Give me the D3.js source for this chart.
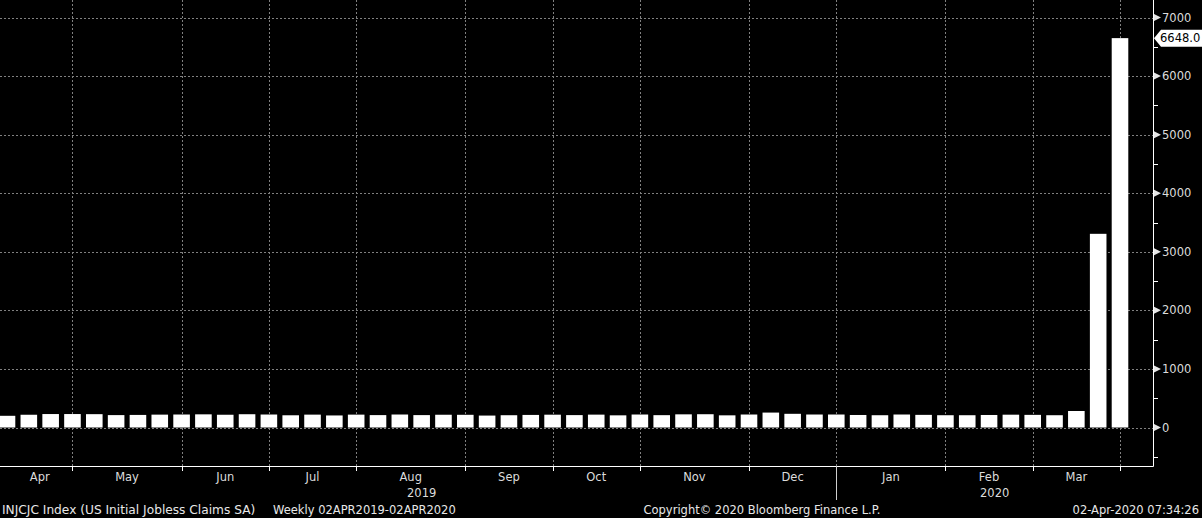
<!DOCTYPE html>
<html>
<head>
<meta charset="utf-8">
<script src="https://cdn.jsdelivr.net/npm/d3@7"></script>
<style>
  html, body { margin: 0; padding: 0; background: #000; }
  svg { display: block; }
</style>
</head>
<body>
<svg id="chart" width="1202" height="518"></svg>
<script>
// ---- data ----
const weeks = [
  "2019-04-06","2019-04-13","2019-04-20","2019-04-27","2019-05-04","2019-05-11","2019-05-18","2019-05-25",
  "2019-06-01","2019-06-08","2019-06-15","2019-06-22","2019-06-29","2019-07-06","2019-07-13","2019-07-20",
  "2019-07-27","2019-08-03","2019-08-10","2019-08-17","2019-08-24","2019-08-31","2019-09-07","2019-09-14",
  "2019-09-21","2019-09-28","2019-10-05","2019-10-12","2019-10-19","2019-10-26","2019-11-02","2019-11-09",
  "2019-11-16","2019-11-23","2019-11-30","2019-12-07","2019-12-14","2019-12-21","2019-12-28","2020-01-04",
  "2020-01-11","2020-01-18","2020-01-25","2020-02-01","2020-02-08","2020-02-15","2020-02-22","2020-02-29",
  "2020-03-07","2020-03-14","2020-03-21","2020-03-28"
];
const claims = [
  200, 218, 230, 230, 228, 212, 215, 220,
  222, 225, 218, 227, 222, 209, 220, 206,
  220, 212, 222, 212, 218, 217, 204, 210,
  215, 219, 212, 220, 208, 222, 211, 225,
  227, 208, 222, 255, 234, 222, 222, 214,
  210, 222, 216, 210, 210, 214, 219, 216,
  210, 282, 3307, 6648
];
const monthBoundaries = ["2019-04-27","2019-06-01","2019-06-29","2019-07-27","2019-08-31","2019-09-28",
  "2019-10-26","2019-11-30","2019-12-28","2020-02-01","2020-02-29","2020-03-28"];
const monthLabels = ["Apr","May","Jun","Jul","Aug","Sep","Oct","Nov","Dec","Jan","Feb","Mar"];
const yearLabels = ["2019","2020"];
const yearBreak = "2019-12-28";
const yMajorTicks = [0,1000,2000,3000,4000,5000,6000,7000];
const yMinorTicks = [-500,500,1500,2500,3500,4500,5500,6500];
const lastValueLabel = "6648.0";
const footerTitle = "INJCJC Index (US Initial Jobless Claims SA)";
const footerPeriod = "Weekly 02APR2019-02APR2020";
const footerMid = "Copyright\u00A9 2020 Bloomberg Finance L.P.";
const footerRight = "02-Apr-2020 07:34:26";

// ---- layout ----
const W = 1202, H = 518;
const plotL = 0, plotR = 1153, plotT = 0, plotB = 466;
const font = "'DejaVu Sans', sans-serif";
const txtCol = "#dcdcdc";
const gridCol = "#808080";

const svg = d3.select("#chart");
svg.append("rect").attr("width", W).attr("height", H).attr("fill", "#000");

const x = d3.scalePoint().domain(weeks).range([7, 1120]);
const step = x.step();
const barW = step * 0.76;
const y = d3.scaleLinear().domain([-657, 7299]).range([plotB, plotT]);

// horizontal grid
svg.append("g").selectAll("line").data(yMajorTicks).join("line")
  .attr("x1", plotL).attr("x2", plotR)
  .attr("y1", d => Math.round(y(d)) + 0.5).attr("y2", d => Math.round(y(d)) + 0.5)
  .attr("stroke", gridCol).attr("stroke-width", 1).attr("stroke-dasharray", "2,2");

// vertical grid
svg.append("g").selectAll("line").data(monthBoundaries).join("line")
  .attr("x1", d => Math.round(x(d)) + 0.5).attr("x2", d => Math.round(x(d)) + 0.5)
  .attr("y1", plotT).attr("y2", plotB)
  .attr("stroke", gridCol).attr("stroke-width", 1).attr("stroke-dasharray", "2,2");

// bars
svg.append("g").selectAll("rect").data(weeks).join("rect")
  .attr("x", d => x(d) - barW / 2)
  .attr("width", barW)
  .attr("y", (d, i) => y(claims[i]))
  .attr("height", (d, i) => y(0) - y(claims[i]))
  .attr("fill", "#ffffff");

// axes lines
svg.append("line").attr("x1", plotL).attr("x2", plotR + 0.5).attr("y1", plotB + 0.5).attr("y2", plotB + 0.5)
  .attr("stroke", "#ffffff").attr("stroke-width", 1);
svg.append("line").attr("x1", plotR + 0.5).attr("x2", plotR + 0.5).attr("y1", plotT).attr("y2", plotB + 0.5)
  .attr("stroke", "#ffffff").attr("stroke-width", 1);

// right axis ticks
const yAxisG = svg.append("g");
yAxisG.selectAll("path.tri").data(yMajorTicks).join("path")
  .attr("class", "tri")
  .attr("d", d => { const yy = y(d); return `M${plotR + 1},${yy - 3.5}L${plotR + 8},${yy}L${plotR + 1},${yy + 3.5}Z`; })
  .attr("fill", "#e6e6e6");
yAxisG.selectAll("line.minor").data(yMinorTicks).join("line")
  .attr("class", "minor")
  .attr("x1", plotR).attr("x2", plotR + 5)
  .attr("y1", d => Math.round(y(d)) + 0.5).attr("y2", d => Math.round(y(d)) + 0.5)
  .attr("stroke", "#ffffff");
yAxisG.selectAll("text").data(yMajorTicks).join("text")
  .attr("x", plotR + 9).attr("y", d => y(d)).attr("dy", "0.35em")
  .attr("fill", txtCol).attr("font-family", font).attr("font-size", 11.5)
  .text(d => d);

// last value label
const lastY = y(claims[claims.length - 1]);
svg.append("path")
  .attr("d", `M${plotR + 1},${lastY}L${plotR + 8},${lastY - 8.5}L${W},${lastY - 8.5}L${W},${lastY + 8.5}L${plotR + 8},${lastY + 8.5}Z`)
  .attr("fill", "#ffffff");
svg.append("text").attr("x", plotR + 7).attr("y", lastY).attr("dy", "0.36em")
  .attr("fill", "#000").attr("font-family", font).attr("font-size", 11.5)
  .text(lastValueLabel);

// x-axis ticks
svg.append("g").selectAll("line").data(monthBoundaries).join("line")
  .attr("x1", d => Math.round(x(d)) + 0.5).attr("x2", d => Math.round(x(d)) + 0.5)
  .attr("y1", plotB).attr("y2", plotB + 5)
  .attr("stroke", "#ffffff");
// year separator
svg.append("line")
  .attr("x1", Math.round(x(yearBreak)) + 0.5).attr("x2", Math.round(x(yearBreak)) + 0.5)
  .attr("y1", plotB).attr("y2", plotB + 34)
  .attr("stroke", "#cfcfcf");

// month labels
svg.append("g").selectAll("text").data(monthLabels).join("text")
  .attr("x", (d, i) => {
    const a = i === 0 ? x(weeks[0]) : x(monthBoundaries[i - 1]);
    const b = x(monthBoundaries[i]);
    return (a + b) / 2;
  })
  .attr("y", 481).attr("text-anchor", "middle")
  .attr("fill", txtCol).attr("font-family", font).attr("font-size", 11.5)
  .text(d => d);

// year labels
svg.append("g").selectAll("text").data(yearLabels).join("text")
  .attr("x", (d, i) => i === 0 ? (x(weeks[0]) + x(yearBreak)) / 2 : (x(yearBreak) + plotR) / 2)
  .attr("y", 497).attr("text-anchor", "middle")
  .attr("fill", txtCol).attr("font-family", font).attr("font-size", 11.5)
  .text(d => d);

// footer
svg.append("text").attr("x", 2).attr("y", 514).attr("fill", "#e8e8e8")
  .attr("font-family", font).attr("font-size", 12.2).text(footerTitle);
svg.append("text").attr("x", 273).attr("y", 514).attr("fill", "#e8e8e8")
  .attr("font-family", font).attr("font-size", 11.5).text(footerPeriod);
svg.append("text").attr("x", 762).attr("y", 514).attr("text-anchor", "middle").attr("fill", "#e8e8e8")
  .attr("font-family", font).attr("font-size", 11.5).text(footerMid);
svg.append("text").attr("x", 1199).attr("y", 514).attr("text-anchor", "end").attr("fill", "#e8e8e8")
  .attr("font-family", font).attr("font-size", 11.5).text(footerRight);
</script>
</body>
</html>
